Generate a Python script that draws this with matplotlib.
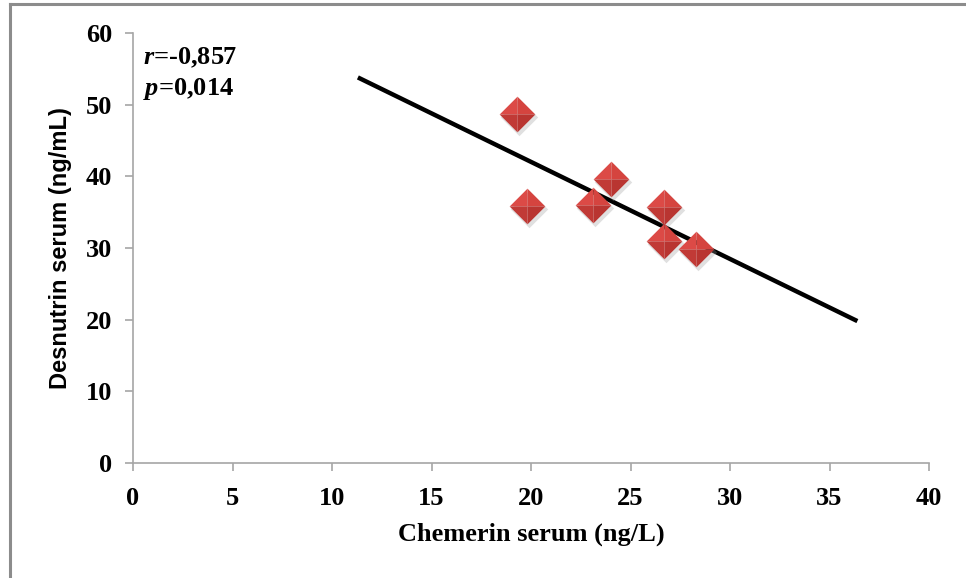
import numpy as np
import matplotlib.pyplot as plt
from matplotlib.lines import Line2D

# Chemerin vs desnutrin serum levels
chemerin = [19.3, 19.8, 23.1, 24.0, 26.7, 26.7, 28.3]
desnutrin = [48.7, 35.8, 36.0, 39.6, 35.7, 31.0, 29.8]

# Linear trend line end points
trend_x = [11.3, 36.4]
trend_y = [53.8, 19.8]

x_ticks = [0, 5, 10, 15, 20, 25, 30, 35, 40]
y_ticks = [0, 10, 20, 30, 40, 50, 60]

plt.rcParams['mathtext.fontset'] = 'custom'
plt.rcParams['mathtext.it'] = 'Liberation Serif:italic:bold'
plt.rcParams['mathtext.rm'] = 'Liberation Serif:bold'

serif = 'Liberation Serif'
sans = 'Liberation Sans'

fig = plt.figure(figsize=(9.66, 5.78), dpi=100)
ax = fig.add_axes([0.1377, 0.1990, 0.824, 0.7439])

# Trend line
ax.plot(trend_x, trend_y, color='black', linewidth=3.2, solid_capstyle='butt', zorder=2)

# Bevelled diamond markers: four facets shaded separately
facets = [
    ([(0, 0), (-1, 0), (0, 1)], '#dc4a46'),
    ([(0, 0), (0, 1), (1, 0)], '#d5443f'),
    ([(0, 0), (1, 0), (0, -1)], '#b93531'),
    ([(0, 0), (0, -1), (-1, 0)], '#c13a36'),
]
ms = 660
ax.scatter(np.array(chemerin) + 0.1, np.array(desnutrin) - 0.4,
           marker=[(-1, 0), (0, 1), (1, 0), (0, -1)], s=ms * 1.1,
           color='#999999', alpha=0.3, linewidths=0, zorder=3)
for verts, col in facets:
    ax.scatter(chemerin, desnutrin, marker=verts, s=ms, color=col,
               linewidths=0, zorder=4)

ax.set_xlim(0, 40)
ax.set_ylim(0, 60)
ax.set_xticks(x_ticks)
ax.set_yticks(y_ticks)

for side in ['top', 'right']:
    ax.spines[side].set_visible(False)
for side in ['left', 'bottom']:
    ax.spines[side].set_color('#a6a6a6')
    ax.spines[side].set_linewidth(1.2)
ax.tick_params(direction='out', length=6, width=1.2, color='#a6a6a6',
               labelsize=19)
ax.tick_params(axis='x', pad=11)
ax.tick_params(axis='y', pad=9)
for lab in ax.get_xticklabels() + ax.get_yticklabels():
    lab.set_fontfamily(serif)
    lab.set_fontweight('bold')

ax.set_xlabel('Chemerin serum (ng/L)', fontfamily=serif, fontweight='bold',
              fontsize=19, labelpad=9)
ax.set_ylabel('Desnutrin serum (ng/mL)', fontfamily=sans, fontweight='bold',
              fontsize=17, labelpad=10)

ax.text(0.012, 0.97, r'$r$=-0,857', transform=ax.transAxes, fontfamily=serif,
        fontweight='bold', fontsize=19, va='top', ha='left')
ax.text(0.012, 0.9, r'$p$=0,014', transform=ax.transAxes, fontfamily=serif,
        fontweight='bold', fontsize=19, va='top', ha='left')

# Outer frame along the top and left edges
fig.add_artist(Line2D([10 / 966, 1], [1 - 4 / 578, 1 - 4 / 578],
                      transform=fig.transFigure, color='#8c8c8c', linewidth=2.2))
fig.add_artist(Line2D([10 / 966, 10 / 966], [0, 1 - 4 / 578],
                      transform=fig.transFigure, color='#8c8c8c', linewidth=2.2))

fig.savefig('out.png', dpi=100, facecolor='white')
